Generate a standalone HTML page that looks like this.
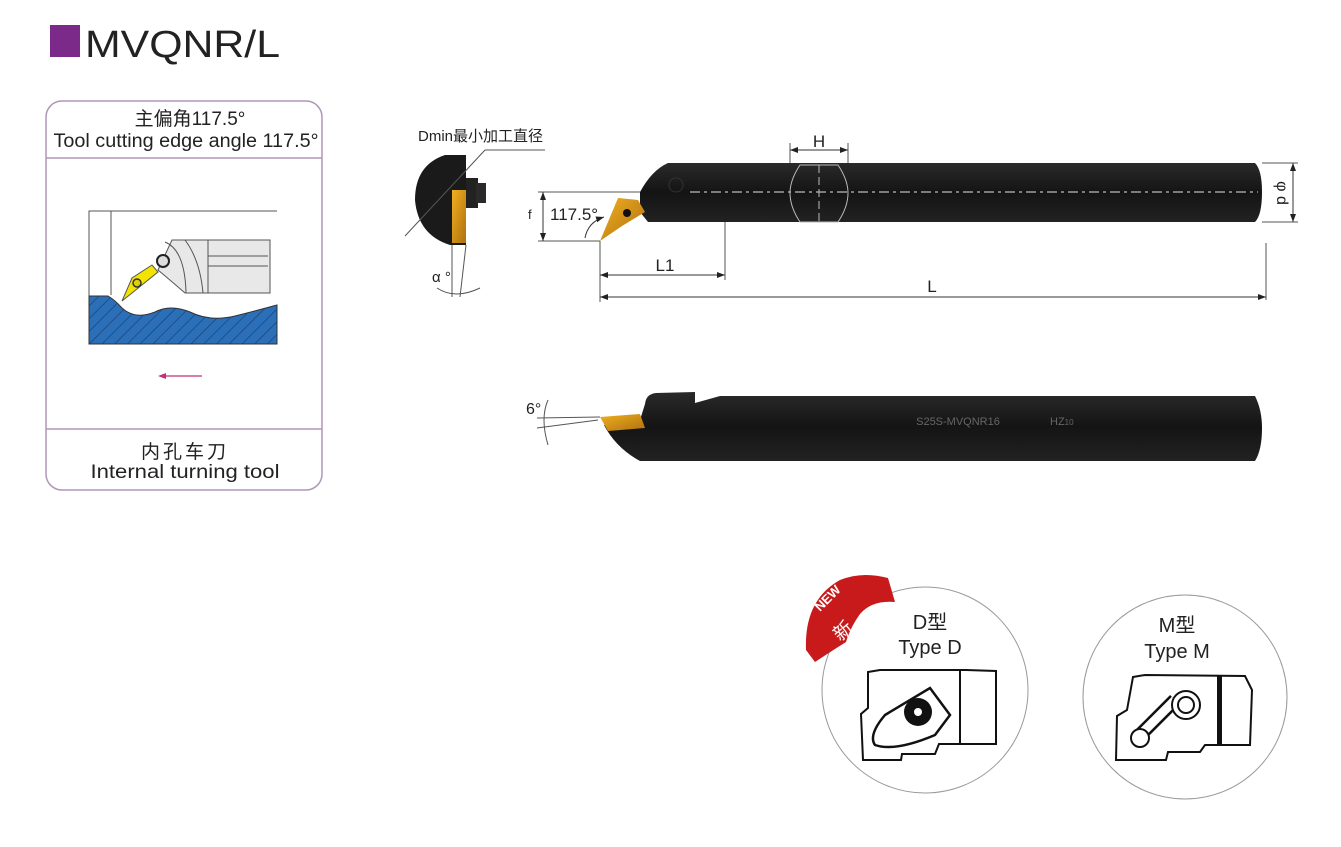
<!DOCTYPE html>
<html><head><meta charset="utf-8"><style>
body{margin:0;background:#fff;}
svg{display:block;font-family:"Liberation Sans","Noto Sans CJK SC",sans-serif;}
</style></head><body>
<svg width="1341" height="847" viewBox="0 0 1341 847" xmlns="http://www.w3.org/2000/svg">
<defs>
<pattern id="hatch" width="9" height="9" patternUnits="userSpaceOnUse" patternTransform="rotate(45)">
<rect width="9" height="9" fill="#2a6fb8"/><line x1="0" y1="0" x2="0" y2="9" stroke="#1a3a6a" stroke-width="1.2"/>
</pattern>
<linearGradient id="bar" x1="0" y1="0" x2="0" y2="1">
<stop offset="0" stop-color="#2a2a2a"/><stop offset="0.5" stop-color="#141414"/><stop offset="1" stop-color="#222"/>
</linearGradient>
<linearGradient id="gold" x1="0" y1="0" x2="1" y2="1">
<stop offset="0" stop-color="#f0b020"/><stop offset="1" stop-color="#b07010"/>
</linearGradient>
<marker id="ar" markerWidth="8" markerHeight="6" refX="8" refY="3" orient="auto-start-reverse"><path d="M0,0 L8,3 L0,6 z" fill="#222"/></marker>
</defs>

<!-- Title -->
<rect x="50" y="25" width="30" height="32" fill="#7b2a8a"/>
<text x="85" y="57" font-size="38" fill="#222" textLength="195" lengthAdjust="spacingAndGlyphs">MVQNR/L</text>

<!-- Left panel -->
<rect x="46" y="101" width="276" height="389" rx="16" fill="#fff" stroke="#b095b8" stroke-width="1.5"/>
<line x1="46" y1="158" x2="322" y2="158" stroke="#b095b8" stroke-width="1.5"/>
<line x1="46" y1="429" x2="322" y2="429" stroke="#b095b8" stroke-width="1.5"/>
<text x="190" y="125" font-size="19" text-anchor="middle" fill="#222">主偏角117.5°</text>
<text x="186" y="147" font-size="19" text-anchor="middle" fill="#222" textLength="265" lengthAdjust="spacingAndGlyphs">Tool cutting edge angle 117.5°</text>
<text x="185" y="458" font-size="19" text-anchor="middle" fill="#222" letter-spacing="3">内孔车刀</text>
<text x="185" y="478" font-size="19" text-anchor="middle" fill="#222" textLength="189" lengthAdjust="spacingAndGlyphs">Internal turning tool</text>
<!-- inner drawing -->
<polyline points="277,211 89,211 89,296" fill="none" stroke="#555" stroke-width="1"/>
<line x1="111" y1="211" x2="111" y2="295" stroke="#555" stroke-width="1"/>
<path d="M89,296 L108,296 Q115,300 122,308 Q135,320 155,312 Q170,304 190,312 Q210,322 235,316 Q255,311 277,305 L277,344 L89,344 Z" fill="url(#hatch)" stroke="#333" stroke-width="1"/>
<path d="M172,240 L270,240 L270,293 L185,293 Q170,280 158,270 Z" fill="#e8e8e8" stroke="#555" stroke-width="1"/>
<path d="M165,242 Q185,250 186,293" fill="none" stroke="#555"/>
<path d="M185,240 Q200,260 203,293" fill="none" stroke="#555"/>
<line x1="208" y1="240" x2="208" y2="293" stroke="#555"/>
<line x1="208" y1="256" x2="268" y2="256" stroke="#555"/>
<line x1="208" y1="266" x2="268" y2="266" stroke="#555"/>
<circle cx="163" cy="261" r="6" fill="#ddd" stroke="#222" stroke-width="2"/>
<polygon points="122,301 132,278 152,265 158,272" fill="#f2e400" stroke="#555"/>
<circle cx="137" cy="283" r="4" fill="#e0d000" stroke="#333" stroke-width="1.5"/>
<line x1="160" y1="376" x2="202" y2="376" stroke="#c0307a" stroke-width="1.2"/>
<path d="M158,376 L166,373 L166,379 z" fill="#c0307a"/>

<!-- End view -->
<path d="M466,155 L445,155 Q415,165 415,200 Q418,235 450,245 L466,245 Z" fill="#1a1a1a"/>
<rect x="466" y="178" width="12" height="30" fill="#222"/>
<rect x="476" y="183" width="10" height="20" fill="#2a2a2a"/>
<rect x="452" y="190" width="14" height="53" fill="url(#gold)"/>
<line x1="405" y1="236" x2="485" y2="150" stroke="#555" stroke-width="1"/>
<line x1="485" y1="150" x2="545" y2="150" stroke="#555" stroke-width="1"/>
<text x="418" y="141" font-size="15" fill="#222">Dmin最小加工直径</text>
<line x1="466" y1="245" x2="460" y2="297" stroke="#555"/>
<line x1="452" y1="245" x2="452" y2="297" stroke="#555"/>
<path d="M437,288 Q455,300 480,288" fill="none" stroke="#555"/>
<text x="432" y="282" font-size="15" fill="#222">α °</text>

<!-- Main bar -->
<path d="M640,192 Q652,170 668,163 L1255,163 Q1262,170 1262,192 Q1262,215 1255,222 L648,222 L640,212 Z" fill="url(#bar)"/>
<polygon points="600,241 618,198 638,200 645,212 622,226" fill="url(#gold)"/>
<circle cx="627" cy="213" r="4" fill="#111"/>
<circle cx="676" cy="185" r="7" fill="none" stroke="#333"/>
<line x1="690" y1="192" x2="1258" y2="192" stroke="#bbb" stroke-width="1.2" stroke-dasharray="10,4,3,4"/>
<path d="M800,165 L838,165 Q848,180 848,193 Q848,207 838,222 L800,222 Q790,207 790,193 Q790,180 800,165 Z" fill="none" stroke="#bbb" stroke-width="1"/>
<line x1="819" y1="165" x2="819" y2="222" stroke="#bbb" stroke-dasharray="8,4"/>
<!-- H dim -->
<line x1="790" y1="143" x2="790" y2="163" stroke="#555"/>
<line x1="848" y1="143" x2="848" y2="163" stroke="#555"/>
<line x1="790" y1="150" x2="848" y2="150" stroke="#333" marker-start="url(#ar)" marker-end="url(#ar)"/>
<text x="819" y="147" font-size="17" text-anchor="middle" fill="#222">H</text>
<!-- phi d -->
<line x1="1262" y1="163" x2="1298" y2="163" stroke="#555"/>
<line x1="1262" y1="222" x2="1298" y2="222" stroke="#555"/>
<line x1="1293" y1="163" x2="1293" y2="222" stroke="#333" marker-start="url(#ar)" marker-end="url(#ar)"/>
<text x="1277" y="193" font-size="16" fill="#222" text-anchor="middle" transform="rotate(90 1277 193)">φ d</text>
<!-- f dim -->
<line x1="538" y1="192" x2="640" y2="192" stroke="#555"/>
<line x1="538" y1="241" x2="600" y2="241" stroke="#555"/>
<line x1="543" y1="192" x2="543" y2="241" stroke="#333" marker-start="url(#ar)" marker-end="url(#ar)"/>
<text x="528" y="219" font-size="13" fill="#222">f</text>
<text x="550" y="220" font-size="17" fill="#222">117.5°</text>
<path d="M585,238 Q588,222 604,217" fill="none" stroke="#333" marker-end="url(#ar)"/>
<!-- L1, L -->
<line x1="600" y1="241" x2="600" y2="302" stroke="#555"/>
<line x1="725" y1="222" x2="725" y2="280" stroke="#555"/>
<line x1="1266" y1="243" x2="1266" y2="300" stroke="#555"/>
<line x1="600" y1="275" x2="725" y2="275" stroke="#333" marker-start="url(#ar)" marker-end="url(#ar)"/>
<text x="665" y="271" font-size="17" text-anchor="middle" fill="#222">L1</text>
<line x1="600" y1="297" x2="1266" y2="297" stroke="#333" marker-start="url(#ar)" marker-end="url(#ar)"/>
<text x="932" y="292" font-size="17" text-anchor="middle" fill="#222">L</text>

<!-- Bottom bar -->
<path d="M645,404 Q646,394 656,393 L695,392 L695,403 L720,396 L1255,396 Q1262,410 1262,428 Q1262,450 1255,461 L640,461 Q616,448 604,425 L640,420 Z" fill="url(#bar)"/>
<polygon points="600,417 640,414 645,428 608,431" fill="url(#gold)"/>
<text x="958" y="425" font-size="11" fill="#666" text-anchor="middle">S25S-MVQNR16</text>
<text x="1050" y="425" font-size="11" fill="#666">HZ<tspan font-size="8">10</tspan></text>
<line x1="537" y1="418" x2="600" y2="417" stroke="#555"/>
<line x1="537" y1="428" x2="598" y2="420" stroke="#555"/>
<path d="M548,400 Q540,418 548,445" fill="none" stroke="#555"/>
<text x="526" y="414" font-size="16" fill="#222">6°</text>

<!-- Type D circle -->
<circle cx="925" cy="690" r="103" fill="#fff" stroke="#999" stroke-width="1"/>
<text x="930" y="629" font-size="20" text-anchor="middle" fill="#222">D型</text>
<text x="930" y="654" font-size="20" text-anchor="middle" fill="#222">Type D</text>
<path d="M868,672 L880,670 L966,670 L996,671 L996,744 L939,744 L935,754 L902,754 L901,760 L863,760 L861,714 L868,708 Z" fill="#fff" stroke="#111" stroke-width="2"/>
<line x1="960" y1="670" x2="960" y2="744" stroke="#111" stroke-width="2"/>
<path d="M875,745 Q868,735 885,715 L930,688 L950,715 L935,735 Q895,752 875,745 Z" fill="#fff" stroke="#111" stroke-width="2.5"/>
<circle cx="918" cy="712" r="14" fill="#111"/>
<circle cx="918" cy="712" r="4" fill="#fff"/>
<path d="M806,650 Q804,600 840,580 Q862,571 888,578 L895,602 Q872,600 860,614 Q850,628 846,642 Q830,652 815,662 Z" fill="#c81a1a"/>
<text x="820" y="612" font-size="13" font-weight="bold" fill="#fff" transform="rotate(-45 820 612)">NEW</text>
<text x="840" y="642" font-size="19" fill="#fff" transform="rotate(-40 840 642)">新</text>

<!-- Type M circle -->
<circle cx="1185" cy="697" r="102" fill="#fff" stroke="#999" stroke-width="1"/>
<text x="1177" y="632" font-size="20" text-anchor="middle" fill="#222">M型</text>
<text x="1177" y="658" font-size="20" text-anchor="middle" fill="#222">Type M</text>
<path d="M1133,677 L1145,675 L1245,676 L1252,690 L1250,745 L1205,745 L1200,752 L1168,752 L1166,760 L1116,760 L1117,716 L1127,710 Z" fill="#fff" stroke="#111" stroke-width="2"/>
<rect x="1217" y="676" width="5" height="69" fill="#111"/>
<line x1="1140" y1="735" x2="1175" y2="700" stroke="#111" stroke-width="14"/>
<line x1="1140" y1="735" x2="1175" y2="700" stroke="#fff" stroke-width="9"/>
<circle cx="1186" cy="705" r="14" fill="#fff" stroke="#111" stroke-width="2"/>
<circle cx="1186" cy="705" r="8" fill="#fff" stroke="#111" stroke-width="2"/>
<circle cx="1140" cy="738" r="9" fill="#fff" stroke="#111" stroke-width="2"/>
</svg>
</body></html>
